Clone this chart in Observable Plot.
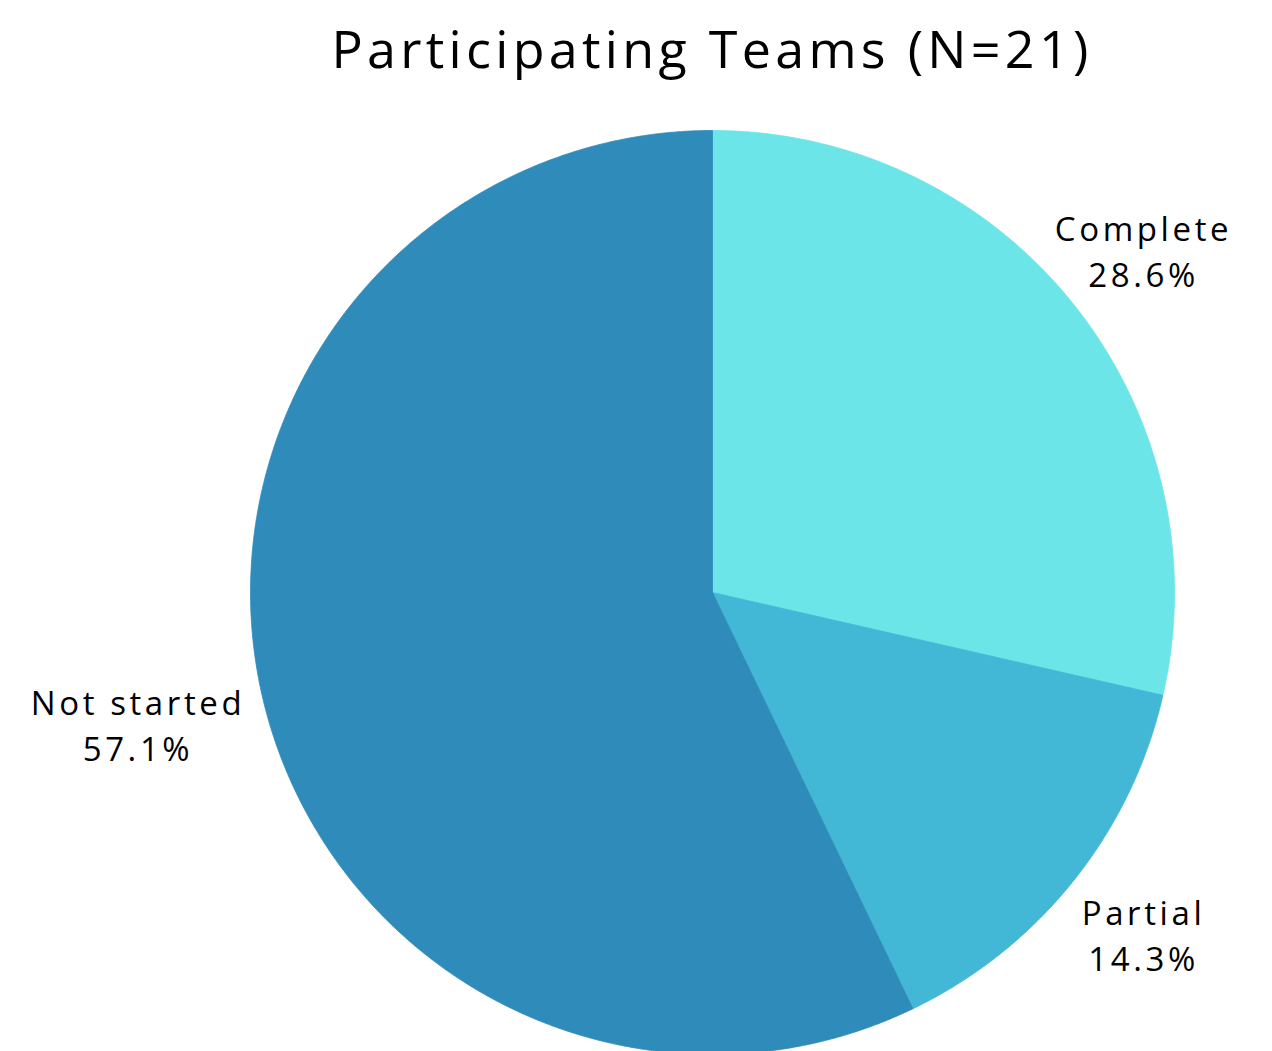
<!DOCTYPE html>
<html><head><meta charset="utf-8">
<script src="https://cdn.jsdelivr.net/npm/d3@7"></script>
<script src="https://cdn.jsdelivr.net/npm/@observablehq/plot@0.6"></script>
<style>
body{margin:0;background:#fff;font-family:"Open Sans",sans-serif;}
#title{height:96px;line-height:96px;text-align:center;font-size:52px;font-weight:500;letter-spacing:4.3px;padding-left:152px;color:#000;white-space:nowrap;}
#chart svg text{letter-spacing:3.6px;}
</style>
</head><body>
<div id="title">Participating Teams (N=21)</div>
<div id="chart"></div>
<script>
const categories = ["Complete", "Partial", "Not started"];
const counts = [6, 3, 12];
const colors = ["#6ce5e8", "#42b7d6", "#2e8bba"];

const W = 1272, H = 955, CX = 712, CY = 496, R = 462;
const total = d3.sum(counts);
const rows = categories.map((c, i) => ({cat: c, count: counts[i]}));
const arcs = d3.pie().sort(null).value(d => d.count)(rows);

const pts = [];
arcs.forEach(a => {
  pts.push({cat: a.data.cat, x: 0, y: 0});
  const n = Math.max(2, Math.ceil((a.endAngle - a.startAngle) / 0.005));
  for (let k = 0; k <= n; k++) {
    const t = a.startAngle + (a.endAngle - a.startAngle) * k / n;
    pts.push({cat: a.data.cat, x: Math.sin(t), y: Math.cos(t)});
  }
  pts.push({cat: a.data.cat, x: 0, y: 0});
});

// labels sit outside the pie along the slice's mid-angle, pushed further out
// the more horizontal the direction (to clear the text's width)
const labels = arcs.map(a => {
  const m = (a.startAngle + a.endAngle) / 2;
  const d = 0.814 + 0.478 * Math.abs(Math.sin(m));
  return {cat: a.data.cat, x: d * Math.sin(m), y: d * Math.cos(m),
    text: a.data.cat + "\n" + (a.data.count / total * 100).toFixed(1) + "%"};
});

const chart = Plot.plot({
  width: W, height: H,
  marginTop: 0, marginBottom: 0, marginLeft: 0, marginRight: 0,
  x: {domain: [-CX / R, (W - CX) / R], axis: null},
  y: {domain: [-(H - CY) / R, CY / R], axis: null},
  color: {domain: categories, range: colors},
  style: {background: "#fff", fontFamily: "Open Sans, sans-serif"},
  marks: [
    Plot.line(pts, {x: "x", y: "y", z: "cat", fill: "cat", stroke: "cat", strokeWidth: 0.8, curve: "linear"}),
    Plot.text(labels, {x: "x", y: "y", text: "text", fontSize: 33, fontWeight: 500, lineHeight: 1.4, fill: "#000", dx: 2, dy: -1})
  ]
});
document.getElementById("chart").appendChild(chart);
</script>
</body></html>
